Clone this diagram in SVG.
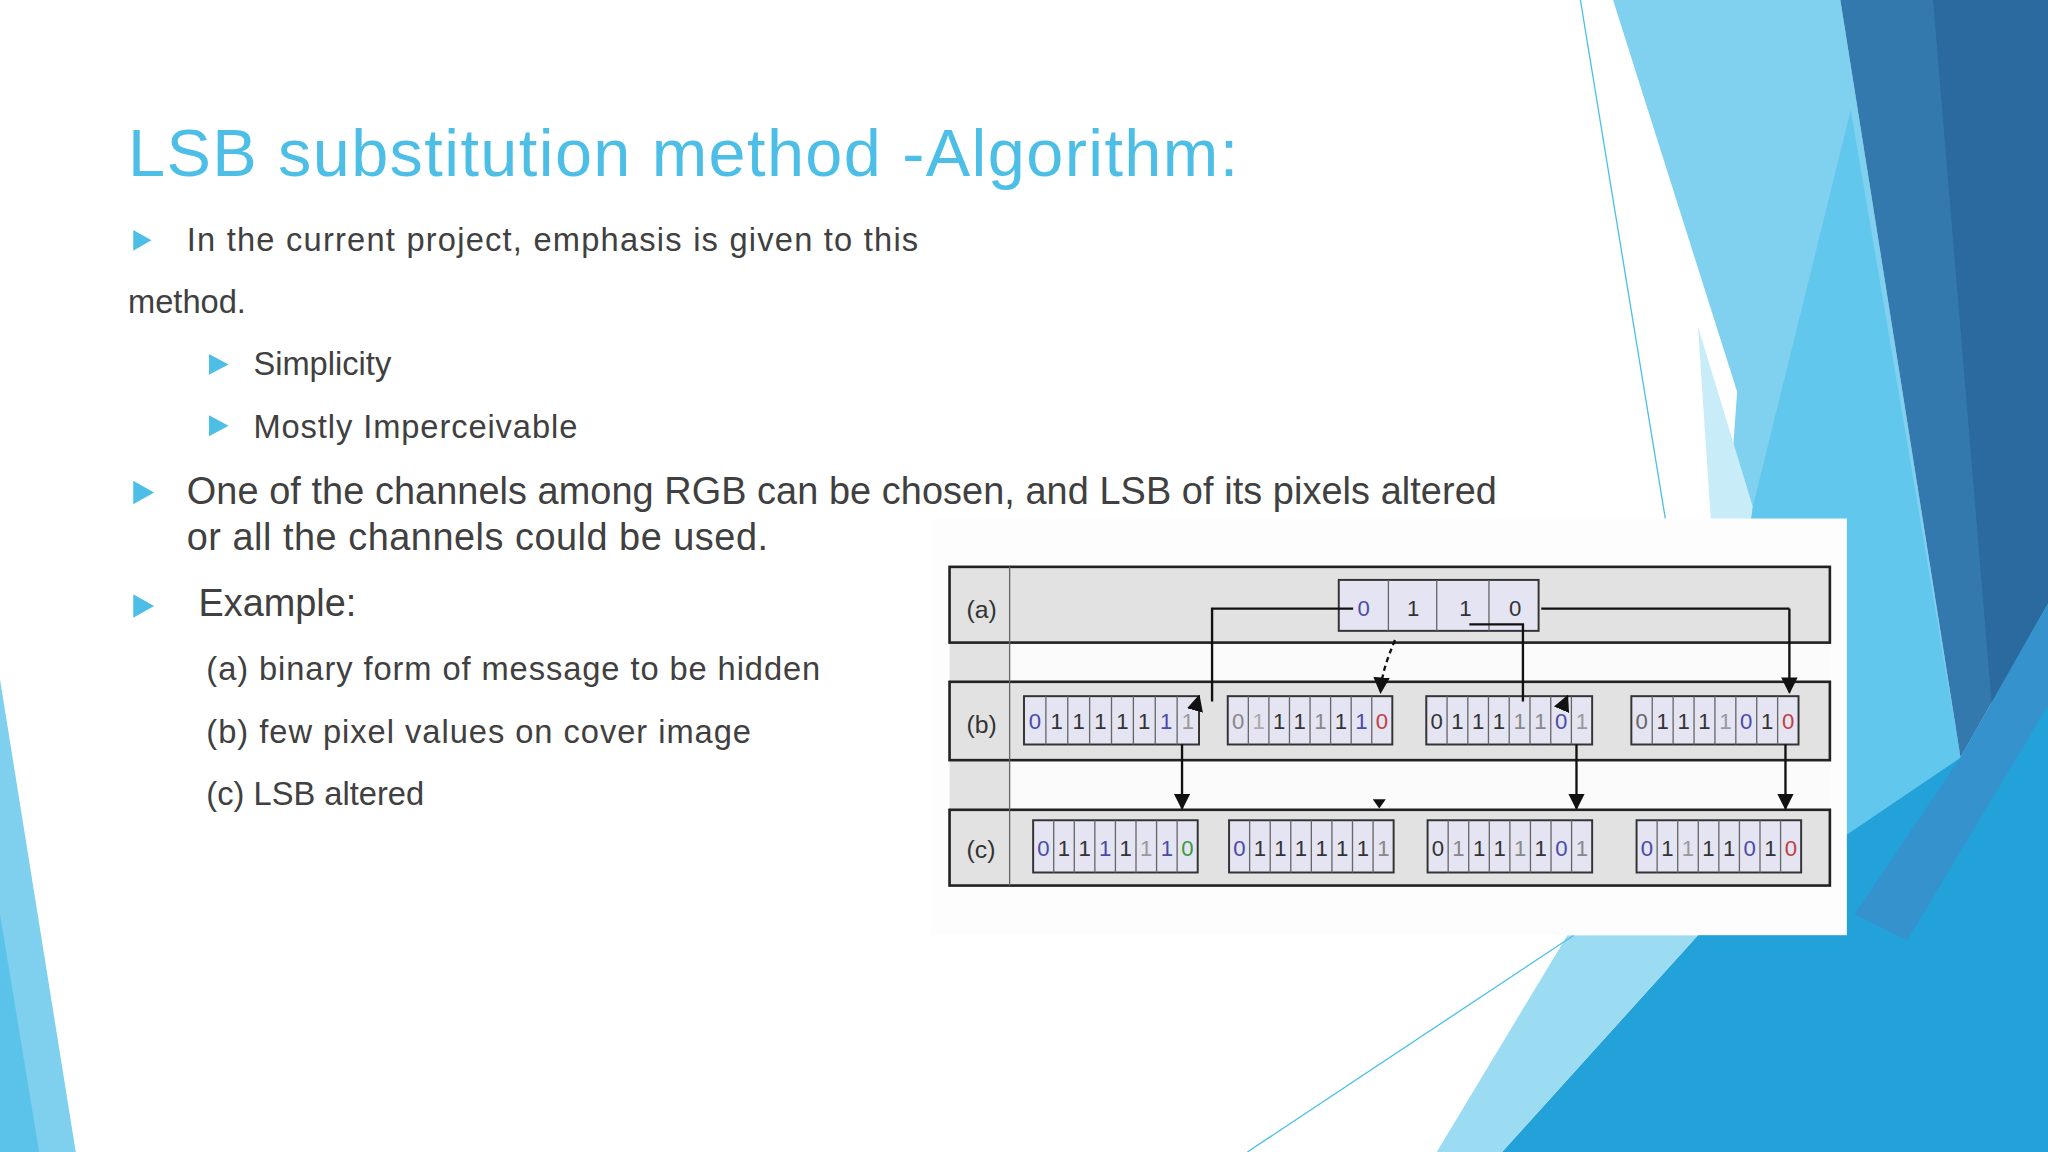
<svg xmlns="http://www.w3.org/2000/svg" width="2048" height="1152" viewBox="0 0 2048 1152">
<defs>
<style>
.t{font-family:"Liberation Sans","DejaVu Sans",sans-serif;fill:#404040}
.bit{font-family:"Liberation Sans",sans-serif;font-size:17px;fill:#333;text-anchor:middle}
.box{fill:#e4e4f2;stroke:#333;stroke-width:1.5}
.div{stroke:#666;stroke-width:1;fill:none}
.row{fill:#e2e2e2;stroke:#222;stroke-width:2}
.ln{stroke:#111;stroke-width:1.8;fill:none}
.lbl{font-family:"Liberation Sans",sans-serif;font-size:19px;fill:#333}
.bl{fill:#4dbfe6}
</style>
<marker id="ah" viewBox="0 0 10 10" refX="9" refY="5" markerWidth="7" markerHeight="7" orient="auto"><path d="M0,0L10,5L0,10z" fill="#111"/></marker>
</defs>
<rect width="2048" height="1152" fill="#ffffff"/>
<g transform="scale(1.30612)">
<!-- background shapes -->
<polygon points="1235,0 1409,0 1501,580 1300,716 1330,300" fill="#80d0f0"/>
<polygon points="1300,250 1342,388 1300,716 1330,700" fill="#c9ecf9"/>
<polygon points="1417,84 1501,580 1300,716 1342,388" fill="#62c7ec"/>
<polygon points="1409,0 1568,0 1568,462 1501,580" fill="#3479ad"/>
<polygon points="1480,0 1568,0 1568,462 1525,540" fill="#2a6a9f"/>
<polygon points="1568,462 1568,882 1150,882 1300,716 1501,580" fill="#22a2d8"/>
<polygon points="1501,580 1568,462 1568,540 1460,720 1420,700" fill="#3592cc"/>
<polygon points="1200,716 1300,716 1150,882 1100,882" fill="#9bdcf3"/>
<line x1="1210" y1="0" x2="1275" y2="397" stroke="#4dbfe6" stroke-width="1"/>
<line x1="955" y1="882" x2="1205" y2="716" stroke="#4dbfe6" stroke-width="1"/>
<polygon points="0,520 58,882 0,882" fill="#7fd0ef"/>
<polygon points="0,700 30,882 0,882" fill="#5bc3ea"/>

<!-- text -->
<text x="98" y="135" font-family="Liberation Sans, sans-serif" font-size="51" fill="#4dbfe6" textLength="850">LSB substitution method -Algorithm:</text>
<polygon class="bl" points="102,176 116,184 102,192"/>
<text class="t" x="143" y="192" font-size="25" textLength="560">In the current project, emphasis is given to this</text>
<text class="t" x="98" y="240" font-size="25">method.</text>
<polygon class="bl" points="160,271 175,279 160,287"/>
<text class="t" x="194" y="287" font-size="25">Simplicity</text>
<polygon class="bl" points="160,318 175,326 160,334"/>
<text class="t" x="194" y="335" font-size="25" textLength="248">Mostly Imperceivable</text>
<polygon class="bl" points="102,368 118,377 102,386"/>
<text class="t" x="143" y="386" font-size="29" textLength="1003">One of the channels among RGB can be chosen, and LSB of its pixels altered</text>
<text class="t" x="143" y="421" font-size="29" textLength="445">or all the channels could be used.</text>
<polygon class="bl" points="102,455 118,464 102,473"/>
<text class="t" x="152" y="472" font-size="29">Example:</text>
<text class="t" x="158" y="521" font-size="25" textLength="470">(a) binary form of message to be hidden</text>
<text class="t" x="158" y="569" font-size="25" textLength="417">(b) few pixel values on cover image</text>
<text class="t" x="158" y="616" font-size="25">(c) LSB altered</text>

<!-- diagram -->
<g id="diagram">
<rect x="713" y="397" width="701" height="319" fill="#fdfdfd"/>
<rect x="727" y="434" width="46" height="244" fill="#e2e2e2"/>
<rect x="773" y="492" width="628" height="30" fill="#fbfbfb"/>
<rect x="773" y="582" width="628" height="38" fill="#fbfbfb"/>
<g id="rowa"><rect class="row" x="727" y="434" width="674" height="58"/><text class="lbl" x="740" y="473">(a)</text></g>
<g id="rowb"><rect class="row" x="727" y="522" width="674" height="60"/><text class="lbl" x="740" y="561">(b)</text></g>
<g id="rowc"><rect class="row" x="727" y="620" width="674" height="58"/><text class="lbl" x="740" y="657">(c)</text></g>
<line class="div" x1="773" y1="434" x2="773" y2="678"/>

<g id="msg"><rect class="box" x="1025" y="444" width="153" height="39"/>
<path class="div" d="M1063,444V483M1100,444V483M1140,444V483"/>
<text class="bit" font-size="22" y="472"><tspan x="1044" fill="#4a4aa8">0</tspan><tspan x="1082">1</tspan><tspan x="1122">1</tspan><tspan x="1160">0</tspan></text></g>

<g id="b1"><rect class="box" x="784" y="533" width="134" height="37"/>
<path class="div" d="M800.75,533v37M817.5,533v37M834.25,533v37M851,533v37M867.75,533v37M884.5,533v37M901.25,533v37"/>
<text class="bit" y="558"><tspan x="792.4" fill="#4a4aa8">0</tspan><tspan x="809.1">1</tspan><tspan x="825.9">1</tspan><tspan x="842.6">1</tspan><tspan x="859.4">1</tspan><tspan x="876.1">1</tspan><tspan x="892.9" fill="#4a4aa8">1</tspan><tspan x="909.6" fill="#999">1</tspan></text></g>
<g id="b2"><rect class="box" x="940" y="533" width="126" height="37"/>
<path class="div" d="M955.75,533v37M971.5,533v37M987.25,533v37M1003,533v37M1018.75,533v37M1034.5,533v37M1050.25,533v37"/>
<text class="bit" y="558"><tspan x="947.9" fill="#888">0</tspan><tspan x="963.6" fill="#aaa">1</tspan><tspan x="979.4">1</tspan><tspan x="995.1">1</tspan><tspan x="1010.9" fill="#888">1</tspan><tspan x="1026.6">1</tspan><tspan x="1042.4" fill="#4a4aa8">1</tspan><tspan x="1058.1" fill="#c04040">0</tspan></text></g>
<g id="b3"><rect class="box" x="1092" y="533" width="127" height="37"/>
<path class="div" d="M1107.9,533v37M1123.8,533v37M1139.6,533v37M1155.5,533v37M1171.4,533v37M1187.3,533v37M1203.1,533v37"/>
<text class="bit" y="558"><tspan x="1100">0</tspan><tspan x="1115.8">1</tspan><tspan x="1131.7">1</tspan><tspan x="1147.6">1</tspan><tspan x="1163.5" fill="#888">1</tspan><tspan x="1179.4" fill="#888">1</tspan><tspan x="1195.3" fill="#4a4aa8">0</tspan><tspan x="1211.1" fill="#999">1</tspan></text></g>
<g id="b4"><rect class="box" x="1249" y="533" width="128" height="37"/>
<path class="div" d="M1265,533v37M1281,533v37M1297,533v37M1313,533v37M1329,533v37M1345,533v37M1361,533v37"/>
<text class="bit" y="558"><tspan x="1257" fill="#666">0</tspan><tspan x="1273">1</tspan><tspan x="1289">1</tspan><tspan x="1305">1</tspan><tspan x="1321" fill="#999">1</tspan><tspan x="1337" fill="#4a4aa8">0</tspan><tspan x="1353">1</tspan><tspan x="1369" fill="#c04040">0</tspan></text></g>

<g id="c1"><rect class="box" x="791" y="628" width="126" height="40"/>
<path class="div" d="M806.75,628v40M822.5,628v40M838.25,628v40M854,628v40M869.75,628v40M885.5,628v40M901.25,628v40"/>
<text class="bit" y="655"><tspan x="798.9" fill="#4a4aa8">0</tspan><tspan x="814.6">1</tspan><tspan x="830.4">1</tspan><tspan x="846.1" fill="#4a4aa8">1</tspan><tspan x="861.9">1</tspan><tspan x="877.6" fill="#999">1</tspan><tspan x="893.4" fill="#4a4aa8">1</tspan><tspan x="909.1" fill="#3a9a3a">0</tspan></text></g>
<g id="c2"><rect class="box" x="941" y="628" width="126" height="40"/>
<path class="div" d="M956.75,628v40M972.5,628v40M988.25,628v40M1004,628v40M1019.75,628v40M1035.5,628v40M1051.25,628v40"/>
<text class="bit" y="655"><tspan x="948.9" fill="#4a4aa8">0</tspan><tspan x="964.6">1</tspan><tspan x="980.4">1</tspan><tspan x="996.1">1</tspan><tspan x="1011.9">1</tspan><tspan x="1027.6">1</tspan><tspan x="1043.4">1</tspan><tspan x="1059.1" fill="#888">1</tspan></text></g>
<g id="c3"><rect class="box" x="1093" y="628" width="126" height="40"/>
<path class="div" d="M1108.75,628v40M1124.5,628v40M1140.25,628v40M1156,628v40M1171.75,628v40M1187.5,628v40M1203.25,628v40"/>
<text class="bit" y="655"><tspan x="1100.9">0</tspan><tspan x="1116.6" fill="#888">1</tspan><tspan x="1132.4">1</tspan><tspan x="1148.1">1</tspan><tspan x="1163.9" fill="#888">1</tspan><tspan x="1179.6">1</tspan><tspan x="1195.4" fill="#4a4aa8">0</tspan><tspan x="1211.1" fill="#888">1</tspan></text></g>
<g id="c4"><rect class="box" x="1253" y="628" width="126" height="40"/>
<path class="div" d="M1268.75,628v40M1284.5,628v40M1300.25,628v40M1316,628v40M1331.75,628v40M1347.5,628v40M1363.25,628v40"/>
<text class="bit" y="655"><tspan x="1260.9" fill="#4a4aa8">0</tspan><tspan x="1276.6">1</tspan><tspan x="1292.4" fill="#999">1</tspan><tspan x="1308.1">1</tspan><tspan x="1323.9">1</tspan><tspan x="1339.6" fill="#4a4aa8">0</tspan><tspan x="1355.4">1</tspan><tspan x="1371.1" fill="#c04040">0</tspan></text></g>

<g id="connectors">
<path class="ln" d="M1036,466H928V537"/>
<path class="ln" d="M1180,466H1370"/>
<path class="ln" stroke-width="1" stroke="#777" d="M1370,466V530" marker-end="url(#ah)"/>
<path class="ln" d="M1125,478H1166V537"/>
<path class="ln" stroke-dasharray="4,3" d="M1068,490C1062,505 1058,515 1057,530" marker-end="url(#ah)"/>
<path class="ln" d="M916,540L918,533" marker-end="url(#ah)"/>
<path class="ln" d="M1197,540L1200,533" marker-end="url(#ah)"/>
<path class="ln" d="M905,570V619" marker-end="url(#ah)"/>
<path class="ln" d="M1207,570V619" marker-end="url(#ah)"/>
<path class="ln" d="M1367,570V619" marker-end="url(#ah)"/>
<path d="M1051,612H1061L1056,619z" fill="#111"/>
</g>
</g>
</g>
</svg>
